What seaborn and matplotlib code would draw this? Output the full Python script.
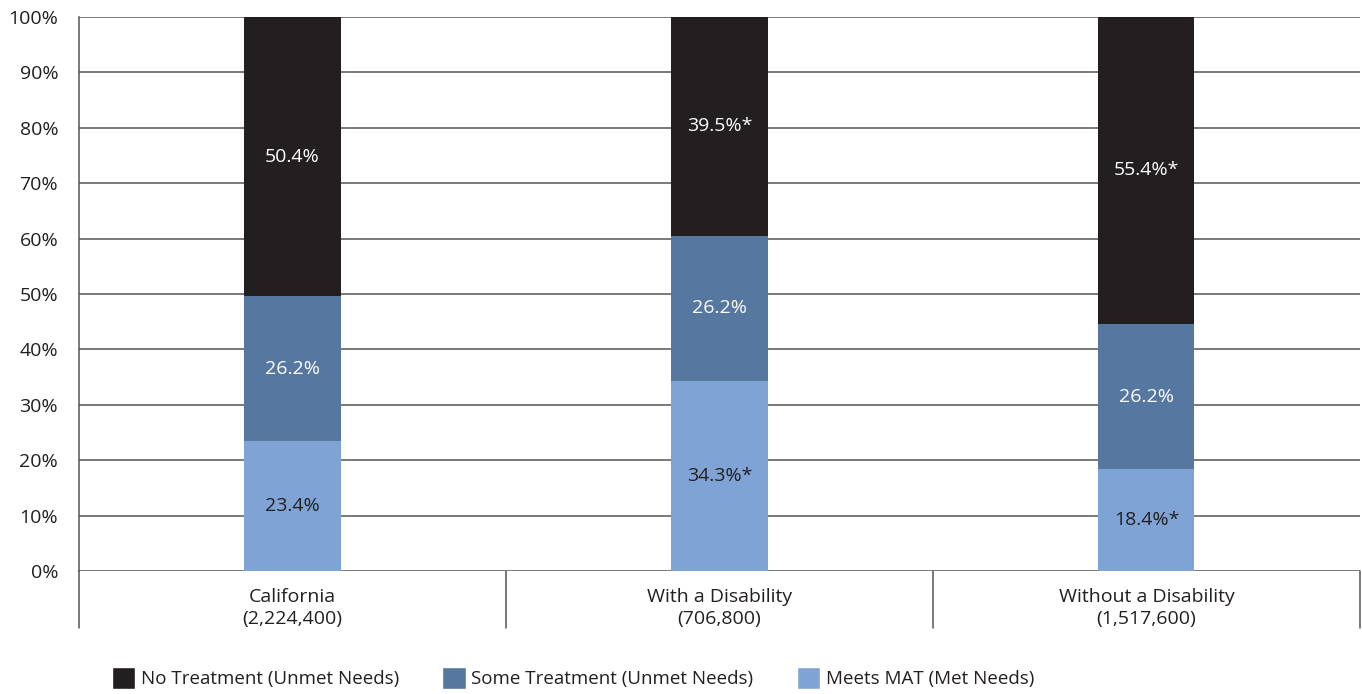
import numpy as np
import pandas as pd
import seaborn as sns
from matplotlib import pyplot as plt
from matplotlib.patches import Patch

# values (percent)
groups = ['California\n(2,224,400)', 'With a Disability\n(706,800)', 'Without a Disability\n(1,517,600)']
meets_mat = [23.4, 34.3, 18.4]
some_treat = [26.2, 26.2, 26.2]
no_treat = [50.4, 39.5, 55.4]
meets_lbl = ['23.4%', '34.3%*', '18.4%*']
some_lbl = ['26.2%', '26.2%', '26.2%']
no_lbl = ['50.4%', '39.5%*', '55.4%*']
y_ticks = [0, 10, 20, 30, 40, 50, 60, 70, 80, 90, 100]
legend_names = ['No Treatment (Unmet Needs)', 'Some Treatment (Unmet Needs)', 'Meets MAT (Met Needs)']

C_NO = '#231f20'
C_SOME = '#56779f'
C_MEET = '#7fa3d5'
GRID = '#555555'
FS = 14

sns.set_style('white')
plt.rcParams['font.family'] = ['Open Sans', 'DejaVu Sans']
plt.rcParams['font.size'] = FS

df = pd.DataFrame({'group': groups, 'meet': meets_mat, 'some': some_treat, 'no': no_treat})
df['b_some'] = df['meet']
df['b_no'] = df['meet'] + df['some']
df['top_no'] = df['b_no'] + df['no']
df['top_some'] = df['b_no']

fig = plt.figure(figsize=(13.62, 6.94), dpi=100)
ax = fig.add_axes([0.058, 0.1772, 0.9405, 0.7983])

W = 0.225
# overlapped layers give the stacked look
sns.barplot(data=df, x='group', y='top_no', color=C_NO, width=W, saturation=1, ax=ax,
            zorder=3, linewidth=0, edgecolor='none')
sns.barplot(data=df, x='group', y='top_some', color=C_SOME, width=W, saturation=1, ax=ax,
            zorder=4, linewidth=0, edgecolor='none')
sns.barplot(data=df, x='group', y='meet', color=C_MEET, width=W, saturation=1, ax=ax,
            zorder=5, linewidth=0, edgecolor='none')

for i in range(len(df)):
    r = df.iloc[i]
    ax.text(i, r['b_no'] + r['no'] / 2, no_lbl[i], ha='center', va='center', color='white', zorder=6, fontsize=FS)
    ax.text(i, r['b_some'] + r['some'] / 2, some_lbl[i], ha='center', va='center', color='white', zorder=6, fontsize=FS)
    ax.text(i, r['meet'] / 2, meets_lbl[i], ha='center', va='center', color=C_NO, zorder=6, fontsize=FS)

ax.set_xlim(-0.5, len(groups) - 0.5)
ax.set_ylim(0, 100)
ax.set_yticks(y_ticks)
ax.set_yticklabels(['%d%%' % t for t in y_ticks])
ax.set_xlabel('')
ax.set_ylabel('')
for t in y_ticks:
    ax.axhline(t, color=GRID, lw=1.1, zorder=1)
ax.tick_params(axis='y', length=12, width=1.1, color=GRID, pad=3, labelcolor=C_NO, labelsize=FS)
ax.tick_params(axis='x', length=0, pad=12, labelcolor=C_NO, labelsize=FS)
for lb in ax.get_xticklabels():
    lb.set_linespacing(1.3)

for s in ['top', 'right', 'bottom']:
    ax.spines[s].set_visible(False)
ax.spines['left'].set_color(GRID)
ax.spines['left'].set_linewidth(1.1)

# category separators below the axis
for xb in np.arange(-0.5, len(groups), 1.0):
    ax.axvline(xb, ymin=-0.103, ymax=0, color=GRID, lw=1.1, clip_on=False)

handles = [Patch(facecolor=C_NO), Patch(facecolor=C_SOME), Patch(facecolor=C_MEET)]
fig.legend(handles, legend_names, ncol=3, loc='lower left', bbox_to_anchor=(0.0725, -0.012),
           frameon=False, fontsize=13.5, handlelength=1.25, handleheight=1.45,
           handletextpad=0.3, columnspacing=2.3, borderpad=0.2, labelcolor=C_NO)

fig.savefig('out.png', dpi=100)
